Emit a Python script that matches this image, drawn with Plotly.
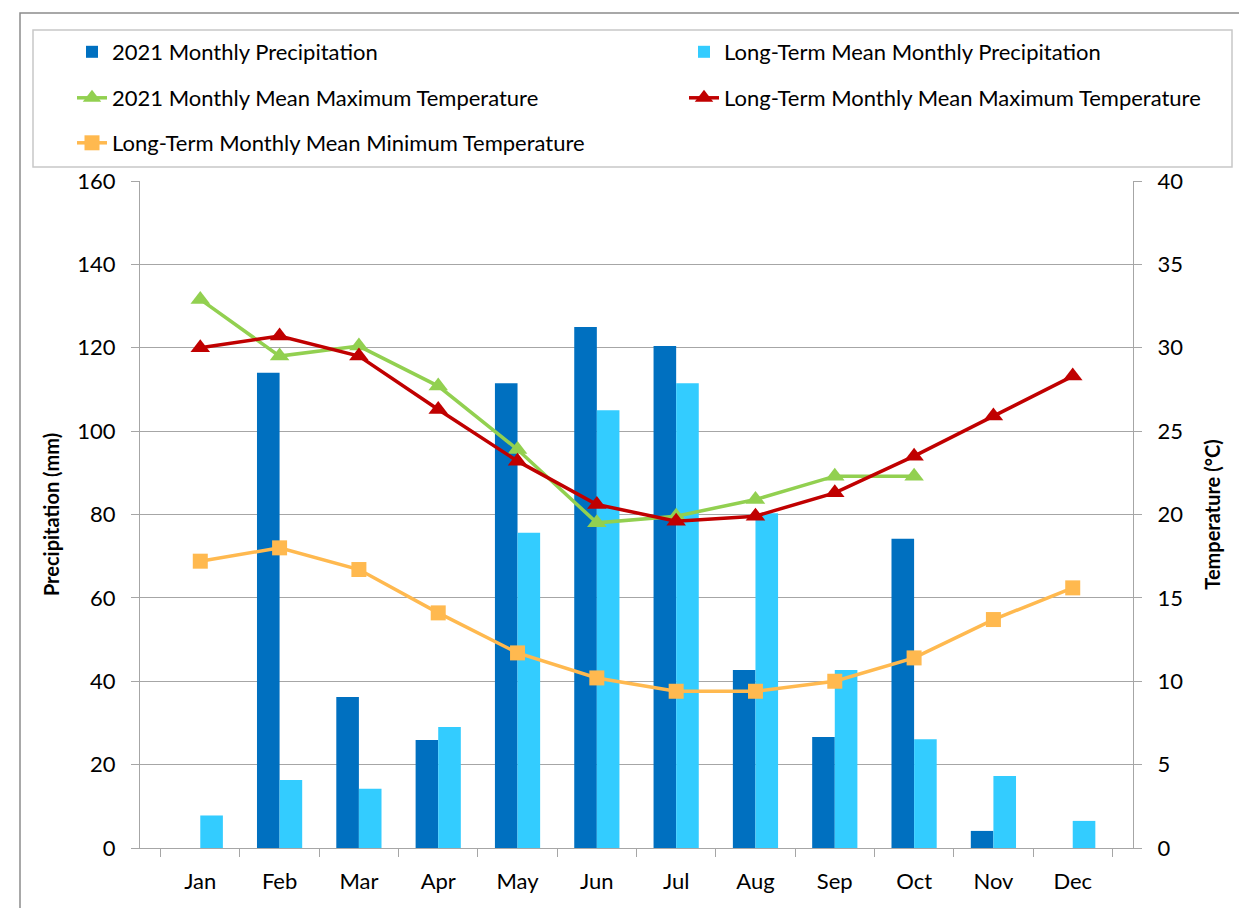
import plotly.graph_objects as go

months = ["Jan", "Feb", "Mar", "Apr", "May", "Jun", "Jul", "Aug", "Sep", "Oct", "Nov", "Dec"]
precip_2021 = [0, 114, 36.2, 25.9, 111.5, 125, 120.4, 42.7, 26.6, 74.2, 4.1, 0]
precip_lt = [7.8, 16.3, 14.2, 29, 75.6, 105, 111.5, 80.3, 42.7, 26.1, 17.3, 6.5]
tmax_2021 = [32.9, 29.5, 30.1, 27.7, 23.9, 19.5, 19.9, 20.9, 22.3, 22.3, None, None]
tmax_lt = [30.0, 30.7, 29.5, 26.3, 23.2, 20.6, 19.6, 19.9, 21.3, 23.5, 25.9, 28.3]
tmin_lt = [17.2, 18.0, 16.7, 14.1, 11.7, 10.2, 9.4, 9.4, 10.0, 11.4, 13.7, 15.6]

names = [
    "2021 Monthly Precipitation",
    "Long-Term Mean Monthly Precipitation",
    "2021 Monthly Mean Maximum Temperature",
    "Long-Term Monthly Mean Maximum Temperature",
    "Long-Term Monthly Mean Minimum Temperature",
]

FONT = "Lato"
OFF = 8  # browser body margin
W, H = 1247 - OFF, 908 - OFF
# plot area in page pixels
L, R, T, B = 140, 1133, 181, 848
pw, ph = R - L, B - T

def px2x(px):
    return (px - L) / pw

def py2y(py):
    return (B - py) / ph

fig = go.Figure()
fig.add_trace(go.Bar(x=months, y=precip_2021, name=names[0], marker_color="#0070C0",
                     marker_line_width=0, legend="legend"))
fig.add_trace(go.Bar(x=months, y=precip_lt, name=names[1], marker_color="#33CCFF",
                     marker_line_width=0, legend="legend2"))
fig.add_trace(go.Scatter(x=months, y=tmax_2021, name=names[2], yaxis="y2", mode="lines+markers",
                         line=dict(color="#92D050", width=3.5),
                         marker=dict(symbol="triangle-up", size=17, color="#92D050"),
                         legend="legend3"))
fig.add_trace(go.Scatter(x=months, y=tmax_lt, name=names[3], yaxis="y2", mode="lines+markers",
                         line=dict(color="#C00000", width=3.5),
                         marker=dict(symbol="triangle-up", size=17, color="#C00000"),
                         legend="legend4"))
fig.add_trace(go.Scatter(x=months, y=tmin_lt, name=names[4], yaxis="y2", mode="lines+markers",
                         line=dict(color="#FFB94F", width=3.5),
                         marker=dict(symbol="square", size=15, color="#FFB94F"),
                         legend="legend5"))

leg_common = dict(font=dict(family=FONT, size=22, color="#000000"), bgcolor="rgba(0,0,0,0)",
                  xanchor="left", yanchor="middle", itemwidth=30)
col1, col2 = 72, 684
rows = [52, 98, 143]
fig.update_layout(
    legend=dict(x=px2x(col1), y=py2y(rows[0]), **leg_common),
    legend2=dict(x=px2x(col2), y=py2y(rows[0]), **leg_common),
    legend3=dict(x=px2x(col1), y=py2y(rows[1]), **leg_common),
    legend4=dict(x=px2x(col2), y=py2y(rows[1]), **leg_common),
    legend5=dict(x=px2x(col1), y=py2y(rows[2]), **leg_common),
)

axis_col = "#A6A6A6"
fig.update_layout(
    width=W, height=H,
    margin=dict(l=L - OFF, r=W - (R - OFF), t=T - OFF, b=H - (B - OFF), pad=0),
    paper_bgcolor="white", plot_bgcolor="white",
    font=dict(family=FONT, size=22, color="#000000"),
    barmode="group", bargap=0.43, bargroupgap=0,
    showlegend=True,
    xaxis=dict(type="category", tickson="boundaries", ticks="outside", ticklen=8,
               tickcolor=axis_col, showline=True, linecolor=axis_col, linewidth=1,
               showgrid=False, tickfont=dict(size=22), ticklabelstandoff=14, mirror=False),
    yaxis=dict(range=[0, 160], dtick=20, showgrid=True, gridcolor=axis_col, gridwidth=1,
               showline=True, linecolor=axis_col, ticks="outside", ticklen=8, tickcolor=axis_col,
               tickfont=dict(size=22), ticklabelstandoff=11, zeroline=False,
               title=dict(text="<b>Precipitation (mm)</b>", font=dict(size=20), standoff=12)),
    yaxis2=dict(range=[0, 40], dtick=5, overlaying="y", side="right", showgrid=False,
                showline=True, linecolor=axis_col, ticks="outside", ticklen=8, tickcolor=axis_col,
                tickfont=dict(size=22), ticklabelstandoff=11, zeroline=False,
                title=dict(text="<b>Temperature (°C)</b>", font=dict(size=20), standoff=23)),
)

# outer chart frame and legend frame
fig.add_shape(type="rect", xref="paper", yref="paper",
              x0=px2x(20), x1=px2x(1260), y0=py2y(920), y1=py2y(13),
              line=dict(color="#8C8C8C", width=1.5), layer="below")
fig.add_shape(type="rect", xref="paper", yref="paper",
              x0=px2x(33), x1=px2x(1232), y0=py2y(167), y1=py2y(30),
              line=dict(color="#C8C8C8", width=1.5), layer="below")

fig.write_html("out.html")
